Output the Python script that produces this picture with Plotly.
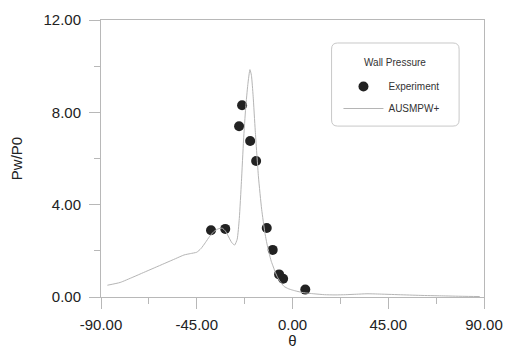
import plotly.graph_objects as go

# Experimental data
exp_theta = [-38.3, -31.6, -23.7, -25.1, -19.9, -17.1, -12.1, -9.3, -6.3, -4.4, 6.0]
exp_p = [2.89, 2.95, 8.31, 7.40, 6.76, 5.89, 2.99, 2.04, 0.98, 0.79, 0.32]

# AUSMPW+ computed curve
cfd_theta = [-87, -81, -75, -70, -65, -60, -55, -51, -48, -45, -43, -41, -39, -37, -35,
             -33, -31.5, -30, -28.5, -27.2, -26, -25, -24, -23, -22, -21, -20, -19.3,
             -18.5, -17.5, -16, -14.5, -13, -12, -11, -10, -9, -8, -7, -6, -5, -4, -2,
             0, 2, 5, 10, 15, 20, 25, 30, 35, 40, 50, 60, 70, 80, 88]
cfd_p = [0.51, 0.63, 0.86, 1.06, 1.26, 1.46, 1.66, 1.82, 1.88, 1.94, 2.1, 2.35, 2.62,
         2.83, 2.95, 2.98, 2.85, 2.6, 2.35, 2.25, 2.5, 3.4, 5.0, 6.8, 8.2, 9.2, 9.85,
         9.6, 8.7, 7.2, 5.2, 3.8, 2.8, 2.3, 1.9, 1.55, 1.3, 1.05, 0.85, 0.7, 0.57, 0.46,
         0.36, 0.3, 0.25, 0.19, 0.14, 0.1, 0.09, 0.1, 0.12, 0.14, 0.13, 0.1, 0.07, 0.05,
         0.03, 0.02]

x_ticks = [-90, -45, 0, 45, 90]
x_tick_labels = ["-90.00", "-45.00", "0.00", "45.00", "90.00"]
y_ticks = [0, 4, 8, 12]
y_tick_labels = ["0.00", "4.00", "8.00", "12.00"]
legend_title = "Wall Pressure"

FONT = "Liberation Sans, Arial, sans-serif"
AXC = "#b8b8b8"

fig = go.Figure()
fig.add_trace(go.Scatter(
    x=exp_theta, y=exp_p, mode="markers", name="Experiment",
    marker=dict(size=10, color="#222222"), legendgroup="a"))
fig.add_trace(go.Scatter(
    x=cfd_theta, y=cfd_p, mode="lines", name="AUSMPW+",
    line=dict(color="#b5b5b5", width=1, shape="spline", smoothing=0.5),
    legendgroup="b"))

# rounded legend frame
x0, x1, y0, y1 = 0.602, 0.935, 0.617, 0.917
rx, ry = 0.016, 0.022
path = (f"M{x0+rx},{y1} L{x1-rx},{y1} Q{x1},{y1} {x1},{y1-ry} "
        f"L{x1},{y0+ry} Q{x1},{y0} {x1-rx},{y0} L{x0+rx},{y0} "
        f"Q{x0},{y0} {x0},{y0+ry} L{x0},{y1-ry} Q{x0},{y1} {x0+rx},{y1} Z")
fig.add_shape(type="path", path=path, xref="paper", yref="paper",
              line=dict(color="#c8c8c8", width=1))
fig.add_annotation(text=legend_title, xref="paper", yref="paper",
                   x=(x0 + x1) / 2, y=(297 - 62) / 277, xanchor="center", yanchor="middle",
                   showarrow=False, font=dict(size=10, color="#333333"))

fig.update_layout(
    width=507, height=349,
    margin=dict(l=101, r=23, t=20, b=52),
    paper_bgcolor="white", plot_bgcolor="white",
    font=dict(family=FONT, color="#222222", size=15),
    showlegend=True,
    legend=dict(
        x=0.62, y=(297 - 72) / 277, xanchor="left", yanchor="top",
        bgcolor="rgba(0,0,0,0)", borderwidth=0,
        font=dict(size=10, color="#333333"),
        tracegroupgap=3, itemwidth=40,
    ),
    xaxis=dict(
        range=[-90, 90], tickvals=x_ticks, ticktext=x_tick_labels, automargin=False,
        showgrid=False, zeroline=False, showline=True, linecolor=AXC, linewidth=1,
        mirror=True, ticks="outside", ticklen=11, tickcolor=AXC,
        minor=dict(tickvals=[-67.5, -22.5, 22.5, 67.5], ticks="outside", ticklen=6, tickcolor=AXC),
        tickfont=dict(size=15), ticklabelstandoff=3,
        title=dict(text="θ", font=dict(size=15), standoff=8),
    ),
    yaxis=dict(
        range=[0, 12], tickvals=y_ticks, ticktext=y_tick_labels, automargin=False,
        showgrid=False, zeroline=False, showline=True, linecolor=AXC, linewidth=1,
        mirror=True, ticks="outside", ticklen=11, tickcolor=AXC,
        minor=dict(tickvals=[2, 6, 10], ticks="outside", ticklen=6, tickcolor=AXC),
        tickfont=dict(size=15), ticklabelstandoff=5,
        title=dict(text="Pw/P0", font=dict(size=15), standoff=17),
    ),
)

fig.write_html("out.html")
